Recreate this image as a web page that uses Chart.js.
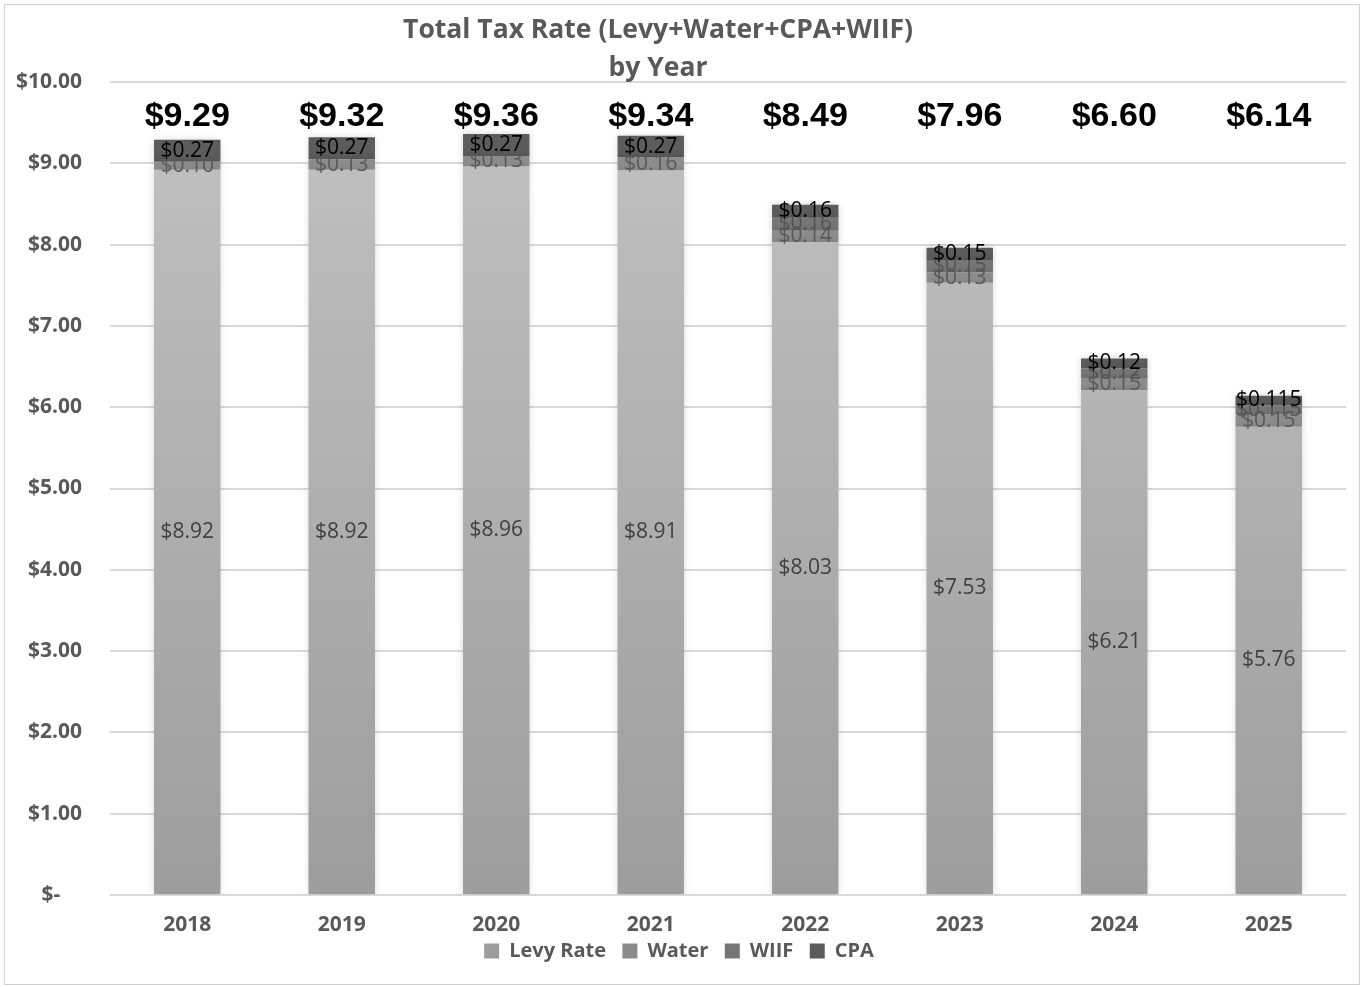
<!DOCTYPE html>
<html lang="en">
<head>
<meta charset="UTF-8">
<title>Total Tax Rate by Year</title>
<script src="https://cdn.jsdelivr.net/npm/chart.js"></script>
<style>
    body { margin: 0; background: #fff; }
    .quadro {
        position: absolute; left: 4px; top: 4px; width: 1354px; height: 979px;
        border: 1px solid #d0d0d0;
    }
    #wrap { position: absolute; left: 0; top: 0; width: 1362px; height: 987px; }
</style>
</head>
<body>
<div class="quadro"></div>
<div id="wrap"><canvas id="taxChart"></canvas></div>

<script>
// dados
var anos = ['2018', '2019', '2020', '2021', '2022', '2023', '2024', '2025'];
var levyRate = [8.92, 8.92, 8.96, 8.91, 8.03, 7.53, 6.21, 5.76];
var water = [0.10, 0.13, 0.13, 0.16, 0.14, 0.13, 0.15, 0.15];
var wiif = [0, 0, 0, 0, 0.16, 0.15, 0.12, 0.115];
var cpa = [0.27, 0.27, 0.27, 0.27, 0.16, 0.15, 0.12, 0.115];
var totais = [9.29, 9.32, 9.36, 9.34, 8.49, 7.96, 6.60, 6.14];
var yTicks = [0, 1, 2, 3, 4, 5, 6, 7, 8, 9, 10];

var fonte = '"Open Sans", "Noto Sans", sans-serif';
var cinza = '#595959';

function dinheiro(v) {
    var casas = (Math.round(v * 1000) % 10 !== 0) ? 3 : 2;
    return '$' + v.toFixed(casas);
}

function gradLevy(context) {
    var area = context.chart.chartArea;
    if (!area) return '#b0b0b0';
    var g = context.chart.ctx.createLinearGradient(0, area.top, 0, area.bottom);
    g.addColorStop(0, '#c2c2c2');
    g.addColorStop(1, '#9d9d9d');
    return g;
}

// sombra leve em volta das barras
var sombra = {
    id: 'sombra',
    beforeDatasetDraw: function (chart) {
        chart.ctx.save();
        chart.ctx.shadowColor = 'rgba(0,0,0,0.18)';
        chart.ctx.shadowBlur = 7;
    },
    afterDatasetDraw: function (chart) {
        chart.ctx.restore();
    }
};

// titulo e rotulos desenhados a mao
var rotulos = {
    id: 'rotulos',
    afterDatasetsDraw: function (chart) {
        var ctx = chart.ctx;
        var cores = ['#404040', '#5a5a5a', '#555555', '#000000'];
        ctx.save();
        ctx.textAlign = 'center';
        ctx.textBaseline = 'middle';
        ctx.font = '21px ' + fonte;
        chart.data.datasets.forEach(function (ds, i) {
            var meta = chart.getDatasetMeta(i);
            meta.data.forEach(function (bar, j) {
                var v = ds.data[j];
                if (!v) return;
                ctx.fillStyle = cores[i];
                ctx.fillText(dinheiro(v), bar.x, (bar.y + bar.base) / 2);
            });
        });

        var y = chart.scales.y;
        var meta0 = chart.getDatasetMeta(0);
        ctx.font = 'bold 34px "Liberation Sans", Arial, sans-serif';
        ctx.fillStyle = '#000';
        totais.forEach(function (t, j) {
            ctx.fillText('$' + t.toFixed(2), meta0.data[j].x, y.getPixelForValue(9.58));
        });

        ctx.font = 'bold 26.5px ' + fonte;
        ctx.fillStyle = cinza;
        ctx.fillText('Total Tax Rate (Levy+Water+CPA+WIIF)', 658, 30);
        ctx.fillText('by Year', 658, 68);
        ctx.restore();
    }
};

var ctx = document.getElementById('taxChart').getContext('2d');

new Chart(ctx, {
    type: 'bar',
    data: {
        labels: anos,
        datasets: [
            { label: 'Levy Rate', data: levyRate, backgroundColor: gradLevy },
            { label: 'Water', data: water, backgroundColor: '#8c8c8c' },
            { label: 'WIIF', data: wiif, backgroundColor: '#767676' },
            { label: 'CPA', data: cpa, backgroundColor: '#5c5c5c' }
        ]
    },
    options: {
        responsive: true,
        maintainAspectRatio: false,
        animation: false,
        datasets: {
            bar: { barPercentage: 0.43, categoryPercentage: 1 }
        },
        layout: { padding: { top: 82, right: 16, bottom: 16, left: 12 } },
        plugins: {
            title: { display: false },
            tooltip: { enabled: false },
            legend: {
                position: 'bottom',
                labels: {
                    boxWidth: 15,
                    boxHeight: 15,
                    padding: 6,
                    color: cinza,
                    font: { family: fonte, size: 20, weight: 'bold' },
                    generateLabels: function (chart) {
                        var itens = Chart.defaults.plugins.legend.labels.generateLabels(chart);
                        itens.forEach(function (it, i) {
                            if (i < itens.length - 1) it.text = it.text + '  ';
                        });
                        return itens;
                    }
                }
            }
        },
        scales: {
            x: {
                stacked: true,
                grid: { display: false, drawTicks: false },
                border: { display: false },
                afterFit: function (scale) { scale.height = 40; },
                ticks: {
                    padding: 17,
                    color: cinza,
                    font: { family: fonte, size: 21, weight: 'bold' }
                }
            },
            y: {
                stacked: true,
                min: 0,
                max: 10,
                afterBuildTicks: function (axis) {
                    axis.ticks = yTicks.map(function (v) { return { value: v }; });
                },
                afterFit: function (scale) { scale.width = 98; },
                grid: { color: '#d9d9d9', lineWidth: 2, drawTicks: false },
                border: { display: false },
                ticks: {
                    padding: 28,
                    color: cinza,
                    font: { family: fonte, size: 21, weight: 'bold' },
                    callback: function (v) { return v === 0 ? '$-    ' : '$' + v.toFixed(2); }
                }
            }
        }
    },
    plugins: [sombra, rotulos]
});
</script>
</body>
</html>
